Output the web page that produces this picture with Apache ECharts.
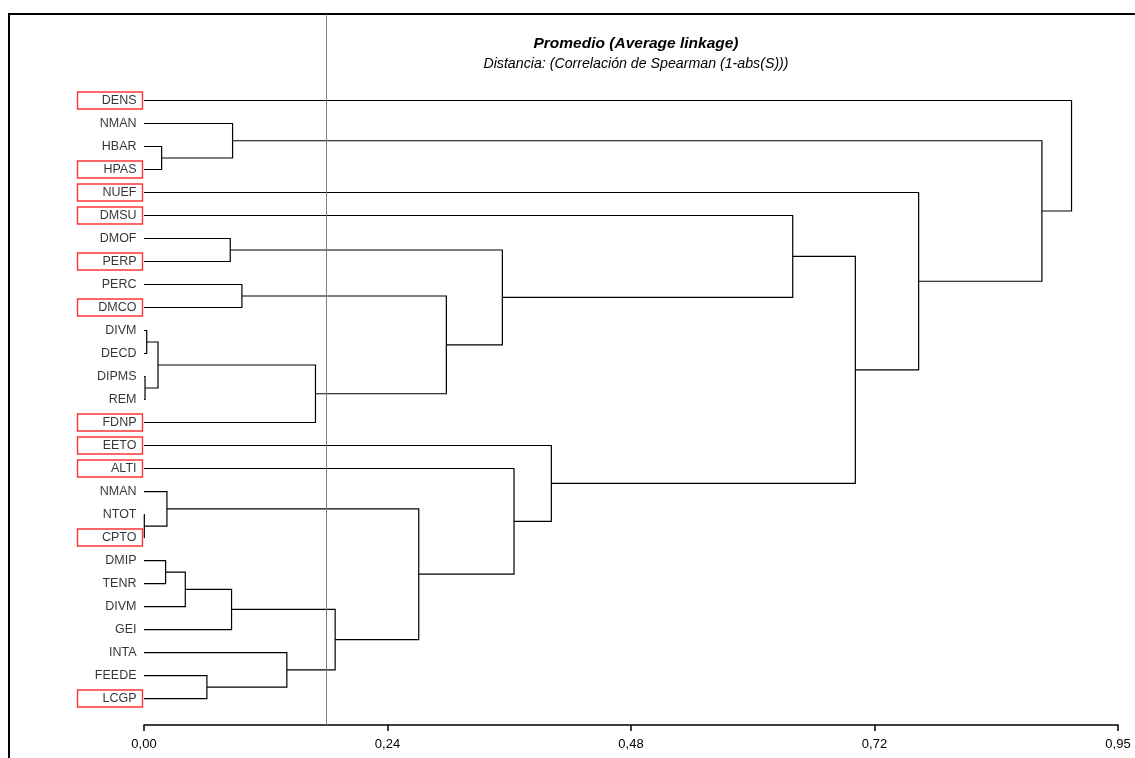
<!DOCTYPE html>
<html>
<head>
<meta charset="utf-8">
<script src="https://cdn.jsdelivr.net/npm/echarts@6/dist/echarts.min.js"></script>
<style>
html, body { margin: 0; padding: 0; background: #fff; }
#chart { width: 1135px; height: 758px; }
</style>
</head>
<body>
<div id="chart"></div>
<script>
// leaves, top to bottom
let leafNames = ['DENS', 'NMAN', 'HBAR', 'HPAS', 'NUEF', 'DMSU', 'DMOF', 'PERP', 'PERC', 'DMCO',
    'DIVM', 'DECD', 'DIPMS', 'REM', 'FDNP', 'EETO', 'ALTI', 'NMAN', 'NTOT', 'CPTO',
    'DMIP', 'TENR', 'DIVM', 'GEI', 'INTA', 'FEEDE', 'LCGP'];
let boxedLeaves = [0, 3, 4, 5, 7, 9, 14, 15, 16, 19, 26];

// merges: node ids 0..26 are leaves, 27+ are clusters in merge order
let mergeA = [18, 12, 10, 29, 2, 20, 17, 32, 25, 6, 34, 1, 8, 24, 30, 37, 33, 39, 36, 16, 15, 5, 48, 4, 38, 0];
let mergeB = [19, 13, 11, 28, 3, 21, 27, 22, 26, 7, 23, 31, 9, 35, 14, 40, 42, 41, 44, 43, 46, 45, 47, 49, 50, 51];
let mergeHeight = [0.0003, 0.001, 0.0027, 0.0138, 0.0174, 0.0213, 0.0226, 0.0407, 0.062, 0.085,
    0.0863, 0.0873, 0.0965, 0.1408, 0.169, 0.1884, 0.2708, 0.298, 0.3532, 0.3647,
    0.4015, 0.6394, 0.7011, 0.7635, 0.885, 0.9142];

let tickLabels = ['0,00', '0,24', '0,48', '0,72', '0,95'];
let cutLine = 0.181;

let nodeY = leafNames.map((n, i) => i);
let nodeH = leafNames.map(() => 0);
let branchData = [];
for (let k = 0; k < mergeHeight.length; k++) {
    let a = mergeA[k], b = mergeB[k];
    branchData.push([nodeH[a], nodeY[a], mergeHeight[k], nodeY[b], nodeH[b]]);
    nodeY.push((nodeY[a] + nodeY[b]) / 2);
    nodeH.push(mergeHeight[k]);
}

let leafData = leafNames.map(function (name, i) {
    let boxed = boxedLeaves.indexOf(i) >= 0;
    return {
        name: name,
        value: [0, i],
        label: boxed ? { borderColor: '#ff0000', borderWidth: 1.4 } : {}
    };
});

let chart = echarts.init(document.getElementById('chart'));
chart.setOption({
    animation: false,
    textStyle: { fontFamily: 'Liberation Sans, Arial, sans-serif' },
    title: {
        text: 'Promedio (Average linkage)',
        subtext: 'Distancia: (Correlación de Spearman (1-abs(S)))',
        left: 631,
        top: 31,
        textAlign: 'center',
        itemGap: 5,
        textStyle: { fontSize: 15.5, fontWeight: 'bold', fontStyle: 'italic', color: '#000' },
        subtextStyle: { fontSize: 14.2, fontStyle: 'italic', color: '#000' }
    },
    graphic: [{
        type: 'rect',
        shape: { x: 9, y: 14, width: 1300, height: 900 },
        style: { fill: 'none', stroke: '#000', lineWidth: 2 },
        silent: true
    }],
    grid: { left: 144, right: 17, top: 14, bottom: 33 },
    xAxis: {
        type: 'value',
        position: 'bottom',
        min: 0,
        max: 0.96,
        interval: 0.24,
        splitLine: { show: false },
        axisLine: { show: true, onZero: false, lineStyle: { color: '#000', width: 1.5 } },
        axisTick: { show: true, length: 6, lineStyle: { color: '#000', width: 1.5 } },
        axisLabel: {
            margin: 13,
            fontSize: 13,
            color: '#000',
            showMaxLabel: true,
            formatter: function (v, idx) { return tickLabels[idx]; }
        }
    },
    yAxis: {
        type: 'value',
        inverse: true,
        min: -3.76,
        max: 27.15,
        show: false
    },
    series: [
        {
            type: 'custom',
            encode: { x: [0, 2, 4], y: [1, 3] },
            renderItem: function (params, api) {
                let p1 = api.coord([api.value(0), api.value(1)]);
                let p2 = api.coord([api.value(2), api.value(1)]);
                let p3 = api.coord([api.value(2), api.value(3)]);
                let p4 = api.coord([api.value(4), api.value(3)]);
                return {
                    type: 'polyline',
                    shape: { points: [p1, p2, p3, p4] },
                    style: { fill: 'none', stroke: '#000', lineWidth: 1.2 }
                };
            },
            data: branchData,
            markLine: {
                silent: true,
                symbol: 'none',
                label: { show: false },
                lineStyle: { color: '#808080', width: 1, type: 'solid' },
                data: [{ xAxis: cutLine }]
            }
        },
        {
            type: 'scatter',
            symbolSize: 1,
            itemStyle: { color: 'rgba(0,0,0,0)' },
            label: {
                show: true,
                position: 'left',
                distance: 1,
                width: 59,
                align: 'right',
                padding: [2, 6, 2, 0],
                fontSize: 12.5,
                color: '#000',
                formatter: '{b}'
            },
            data: leafData
        }
    ]
});
</script>
</body>
</html>
